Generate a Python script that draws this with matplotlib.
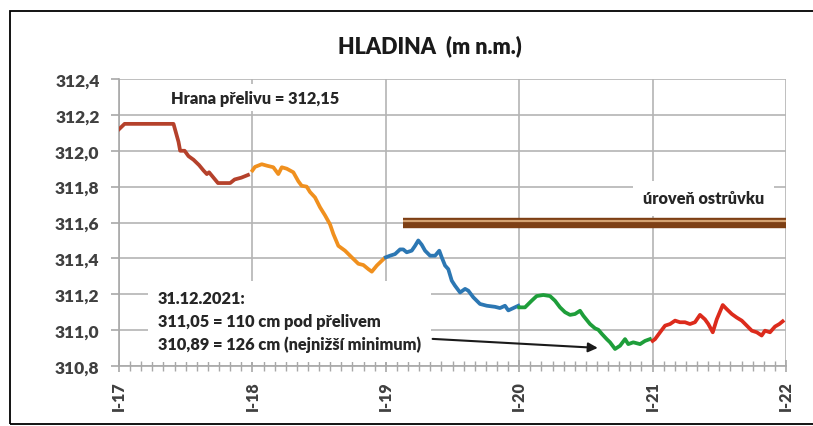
import numpy as np
import matplotlib
matplotlib.use("Agg")
import matplotlib.pyplot as plt
from matplotlib.ticker import MultipleLocator, FuncFormatter
from matplotlib.patches import Rectangle

plt.rcParams['font.family'] = ['Lato', 'DejaVu Sans']

# water level per year: month offset from January, level (m n.m.)
m2017 = [0.0, 0.5, 4.9, 5.35, 5.5, 5.9, 6.25, 6.7, 7.2, 7.6, 7.9, 8.1, 8.5, 8.9, 9.5, 10.0, 10.4, 11.0, 11.6]
h2017 = [312.12, 312.15, 312.15, 312.05, 312.0, 312.0, 311.97, 311.95, 311.92, 311.89, 311.87, 311.88,
         311.85, 311.82, 311.82, 311.82, 311.84, 311.85, 311.865]

m2018 = [0.0, 0.23, 0.84, 1.29, 1.88, 2.33, 2.64, 3.09, 3.68, 4.13, 4.43, 4.88, 5.18, 5.63, 6.08, 6.53,
         6.98, 7.28, 7.73, 8.33, 8.93, 9.53, 9.98, 10.43, 10.74, 11.19, 11.64, 11.87]
h2018 = [311.89, 311.91, 311.925, 311.917, 311.908, 311.87, 311.908, 311.90, 311.88, 311.83, 311.805,
         311.80, 311.77, 311.74, 311.685, 311.64, 311.59, 311.536, 311.47, 311.443, 311.406, 311.37,
         311.363, 311.34, 311.326, 311.36, 311.387, 311.40]

m2019 = [0.0, 0.38, 0.83, 1.28, 1.57, 1.88, 2.33, 2.63, 2.92, 3.23, 3.53, 3.98, 4.43, 4.81, 5.03, 5.33,
         5.62, 5.93, 6.22, 6.68, 7.13, 7.42, 7.87, 8.47, 9.08, 9.82, 10.27, 10.72, 11.02, 11.47, 11.92]
h2019 = [311.406, 311.415, 311.424, 311.45, 311.45, 311.434, 311.443, 311.47, 311.50, 311.476, 311.443,
         311.415, 311.415, 311.443, 311.406, 311.36, 311.34, 311.276, 311.248, 311.21, 311.23, 311.22,
         311.183, 311.146, 311.136, 311.13, 311.123, 311.136, 311.11, 311.123, 311.136]

m2020 = [0.0, 0.52, 1.12, 1.57, 2.17, 2.77, 3.22, 3.67, 4.12, 4.57, 5.02, 5.47, 5.77, 6.37, 6.82, 7.12,
         7.42, 7.87, 8.17, 8.62, 9.07, 9.52, 9.81, 10.26, 10.87, 11.32, 11.76]
h2020 = [311.127, 311.127, 311.164, 311.19, 311.196, 311.19, 311.164, 311.127, 311.10, 311.085, 311.09,
         311.108, 311.08, 311.034, 311.01, 311.002, 310.98, 310.95, 310.932, 310.895, 310.913, 310.95,
         310.922, 310.932, 310.922, 310.94, 310.95]

m2021 = [0.0, 0.22, 0.67, 1.12, 1.57, 2.02, 2.46, 2.91, 3.36, 3.81, 4.26, 4.71, 5.01, 5.41, 5.77, 6.31,
         6.67, 7.12, 7.57, 8.02, 8.47, 8.92, 9.37, 9.81, 10.11, 10.56, 11.01, 11.40, 11.70]
h2021 = [310.94, 310.95, 310.988, 311.025, 311.034, 311.053, 311.044, 311.044, 311.034, 311.044, 311.085,
         311.06, 311.034, 310.988, 311.06, 311.14, 311.117, 311.09, 311.07, 311.053, 311.025, 310.997,
         310.988, 310.97, 310.997, 310.988, 311.02, 311.034, 311.049]

years = [2017, 2018, 2019, 2020, 2021]
months = [m2017, m2018, m2019, m2020, m2021]
levels = [h2017, h2018, h2019, h2020, h2021]
colors = ['#b5412b', '#f0901e', '#2c77b3', '#1e9e3a', '#dc2b1c']

island_level = 311.6
island_start = 2019.13
year_labels = ['I-17', 'I-18', 'I-19', 'I-20', 'I-21', 'I-22']

fig = plt.figure(figsize=(8.13, 4.27), dpi=100)
ax = fig.add_axes([0.1464, 0.1405, 0.8204, 0.6721])

# outer frame (right side runs off the picture)
fig.patches.append(Rectangle((0.0123, 0.0047), 1.1, 0.9672, transform=fig.transFigure,
                             fill=False, edgecolor='black', linewidth=1.3))

for yr, m, h, c in zip(years, months, levels, colors):
    x = yr + np.array(m) / 12.0
    ax.plot(x, h, color=c, linewidth=2.7, solid_joinstyle='round', zorder=4)

# island level band
ax.plot([island_start, 2022], [island_level, island_level], color='#7d3f14', linewidth=7.5,
        solid_capstyle='butt', zorder=3)
ax.plot([island_start, 2022], [island_level + 0.008, island_level + 0.008], color='#d4a271',
        linewidth=1.6, solid_capstyle='butt', zorder=3)

ax.set_xlim(2017, 2022)
ax.set_ylim(310.8, 312.4)
ax.xaxis.set_minor_locator(MultipleLocator(1 / 12))
ax.yaxis.set_major_locator(MultipleLocator(0.2))
ax.set_xticks(years + [2022])
ax.set_xticklabels(year_labels, rotation=90, fontsize=11.5, fontweight='heavy', color='#404040')
ax.yaxis.set_major_formatter(FuncFormatter(lambda v, p: f'{v:.1f}'.replace('.', ',')))
for lab in ax.get_yticklabels():
    lab.set_fontsize(12.5)
    lab.set_fontweight('heavy')
    lab.set_color('#404040')

ax.grid(True, which='major', color='#b4b4b4', linewidth=1.2)
ax.set_axisbelow(True)
for s in ['top', 'right']:
    ax.spines[s].set_visible(False)
for s in ['left', 'bottom']:
    ax.spines[s].set_color('#a8a8a8')
    ax.spines[s].set_linewidth(1.2)
ax.tick_params(axis='y', length=6, color='#a8a8a8', width=1.2, pad=8)
ax.tick_params(axis='x', which='major', direction='inout', length=8, color='#a8a8a8', width=1.2, pad=6)
ax.tick_params(axis='x', which='minor', direction='inout', length=7, color='#a8a8a8', width=1.0)

fig.text(430 / 813, 1 - 46 / 427, 'HLADINA  (m n.m.)', ha='center', va='center',
         fontsize=15.5, fontweight='heavy', color='#1a1a1a')

txt_kw = dict(fontsize=11.8, fontweight='heavy', color='#262626', zorder=5)
ax.text(2018.02, 312.295, 'Hrana přelivu = 312,15', ha='center', va='center',
        bbox=dict(facecolor='white', edgecolor='none', pad=4), **txt_kw)
ax.text(2021.38, 311.735, 'úroveň ostrůvku', ha='center', va='center',
        bbox=dict(facecolor='white', edgecolor='none', pad=7), **txt_kw)
ax.text(2017.29, 311.05,
        '31.12.2021:\n311,05 = 110 cm pod přelivem\n310,89 = 126 cm (nejnižší minimum)',
        ha='left', va='center', linespacing=1.5,
        bbox=dict(facecolor='white', edgecolor='none', pad=7), **txt_kw)
ax.annotate('', xy=(2020.61, 310.90), xytext=(2019.33, 310.952),
            arrowprops=dict(arrowstyle='-|>', color='#1a1a1a', lw=1.5, mutation_scale=14), zorder=6)

fig.savefig('out.png', dpi=100)
